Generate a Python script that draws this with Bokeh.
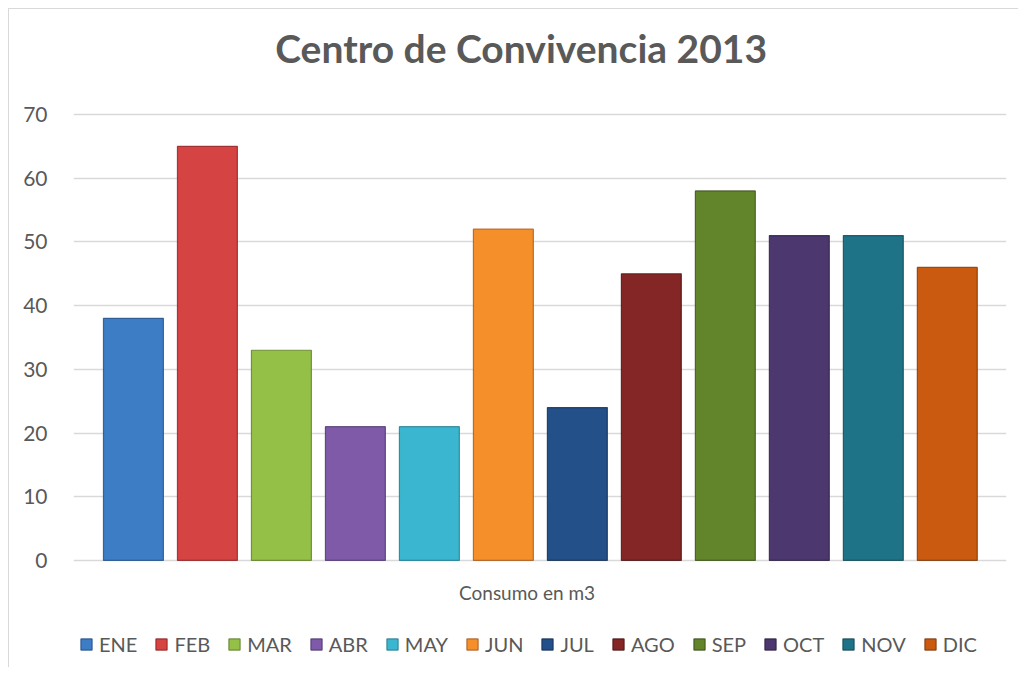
from bokeh.plotting import figure
from bokeh.models import (ColumnDataSource, Range1d, FixedTicker, Legend, LegendItem, Label)
from bokeh.embed import file_html
from bokeh.resources import INLINE

# ---- data ----
months = ["ENE", "FEB", "MAR", "ABR", "MAY", "JUN", "JUL", "AGO", "SEP", "OCT", "NOV", "DIC"]
consumo = [38, 65, 33, 21, 21, 52, 24, 45, 58, 51, 51, 46]
colors = ["#3C7DC6", "#D54343", "#95C048", "#7E5AA8", "#3BB6D0", "#F48F2A",
          "#24508A", "#852626", "#62852B", "#4C386F", "#1F7387", "#CA5A10"]
edges = ["#1F4E86", "#8E2222", "#5E7D27", "#4C3470", "#1E7A8E", "#A9581A",
         "#122C50", "#4A1212", "#394F17", "#2A1E40", "#0F4552", "#7A3408"]
yticks = [0, 10, 20, 30, 40, 50, 60, 70]
title_text = "Centro de Convivencia 2013"
xlabel = "Consumo en m3"

FONT = "Lato"
GREY = "#595959"

src = ColumnDataSource(dict(x=list(range(len(months))), top=consumo,
                            month=months, color=colors, edge=edges))

# frame spans the whole chart height so that title, category label and legend live inside it
p = figure(width=1010, height=659,
           x_range=Range1d(-0.81, 11.80), y_range=Range1d(-15.7, 86.48),
           output_backend="svg", toolbar_location=None,
           min_border_left=64, min_border_right=13,
           min_border_top=0, min_border_bottom=8)
p.styles = {"margin-left": "8px", "margin-top": "8px",
            "border-left": "1px solid #D9D9D9", "border-top": "1px solid #D9D9D9"}

r = p.vbar(x="x", top="top", width=0.81, bottom=0, source=src,
           fill_color="color", line_color="edge", line_width=1.2, line_alpha=0.8)

p.outline_line_color = None
p.background_fill_color = "white"
p.border_fill_color = "white"

# title
p.add_layout(Label(x=5.24, y=80.36, text=title_text, text_font=FONT,
                   text_font_size="39px", text_font_style="bold", text_color=GREY,
                   text_align="center", text_baseline="middle"))

# y axis
p.yaxis.ticker = FixedTicker(ticks=yticks)
p.yaxis.axis_line_color = None
p.yaxis.major_tick_line_color = None
p.yaxis.minor_tick_line_color = None
p.yaxis.major_label_text_font = FONT
p.yaxis.major_label_text_font_size = "21px"
p.yaxis.major_label_text_color = GREY
p.yaxis.major_label_standoff = 20

p.ygrid.ticker = FixedTicker(ticks=yticks)
p.ygrid.grid_line_color = "#D9D9D9"
p.ygrid.grid_line_width = 1.5
p.xgrid.grid_line_color = None

# x axis: hidden, category label drawn as text below the baseline
p.xaxis.visible = False
p.add_layout(Label(x=5.32, y=-5.0, text=xlabel, text_font=FONT,
                   text_font_size="19px", text_color=GREY,
                   text_align="center", text_baseline="middle"))

items = [LegendItem(label=m, renderers=[r], index=i) for i, m in enumerate(months)]
legend = Legend(items=items, orientation="horizontal", location=(6, 4),
                label_text_font=FONT, label_text_font_size="20px",
                label_text_color=GREY, glyph_width=14, glyph_height=14,
                label_standoff=6, spacing=17, padding=0, margin=0,
                border_line_color=None, background_fill_alpha=0)
p.add_layout(legend)

open("out.html", "w").write(file_html(p, INLINE))
